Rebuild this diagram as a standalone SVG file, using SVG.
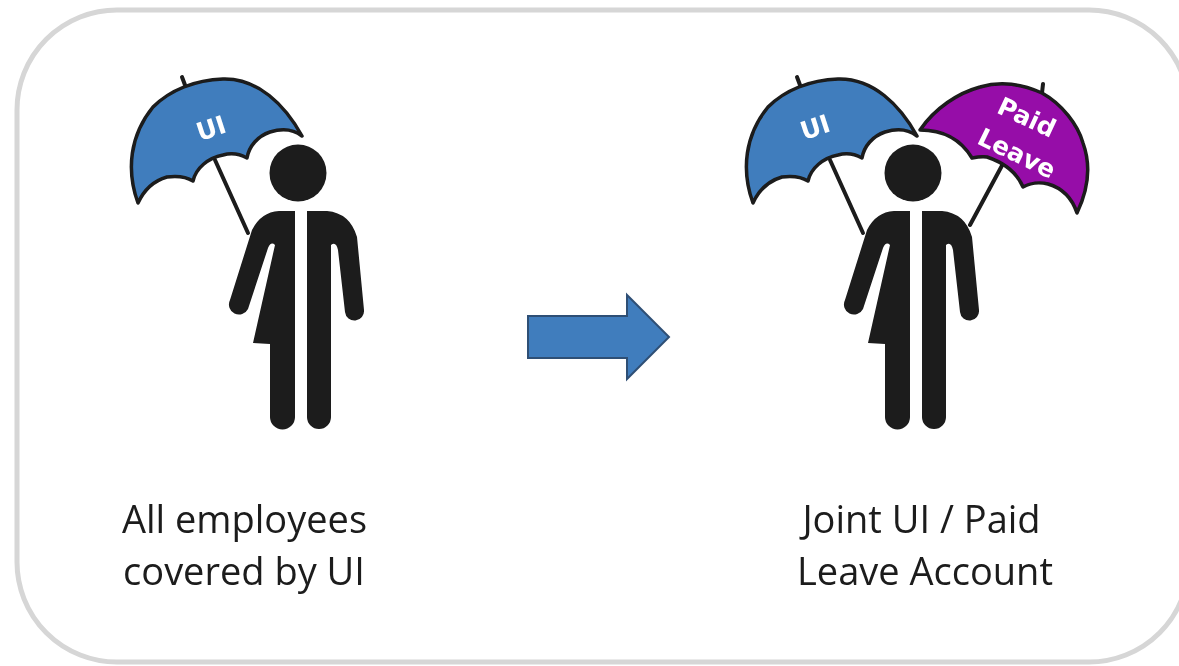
<svg xmlns="http://www.w3.org/2000/svg" width="1179" height="666" viewBox="0 0 1179 666">
<style>
.lab{font-family:"Open Sans","Noto Sans",sans-serif;font-size:38px;fill:#1a1a1a;text-anchor:middle}
.umb{stroke:#1a1a1a;stroke-width:3.500;stroke-linejoin:round}
.line{stroke:#1a1a1a;stroke-width:4;fill:none;stroke-linecap:round}
.blk{fill:#1a1a1a}
.ut{font-family:"DejaVu Sans",sans-serif;font-weight:700;font-size:25px;fill:#fff;text-anchor:middle}
</style>
<defs>
<filter id="soft" x="-5%" y="-5%" width="110%" height="110%"><feGaussianBlur stdDeviation="0.7"/></filter>
<g id="person">
<circle class="blk" cx="298" cy="173" r="28.500"/>
<path class="blk" d="M295 211H279Q261 212 252 230L230 300A10 10 0 0 0 248 309L268 248Q271 241 275 245L253 343L270 344V417A12.500 12.500 0 0 0 295 417Z"/>
<path class="blk" d="M307 211H327Q350 213 357 237L364 310A9.500 9.500 0 0 1 345 312L338 250Q336 241 331 245V417A12 12 0 0 1 307 417Z"/>
</g>
<g id="umbL">
<path class="line" d="M182 77L185 85M215 160L248 233"/>
<path class="umb" fill="#3f7dbd" d="M138 203C126 170 130 135 153 107C170 90 195 80 223 79C258 78 285 105 302 136C293 129 283 128 270 132C258 136 249 146 247 158C238 153 230 153 223 155C208 158 196 168 193 181C185 176 175 176 167 177C153 181 144 190 138 203Z"/>
</g>
</defs>
<g filter="url(#soft)">
<rect x="17" y="10" width="1172" height="652" rx="100" fill="#fff" stroke="#d6d6d6" stroke-width="5"/>
<g id="node-left-person">
<use href="#umbL"/><use href="#person"/>
<text class="ut" transform="translate(211 128) rotate(-18)" y="9">UI</text>
</g>
<g id="node-right-person">
<use href="#umbL" x="615"/><use href="#person" x="615"/>
<path class="line" d="M1005 160L970 225M1043 84L1042 93"/>
<path class="umb" fill="#960aa8" d="M920 130C935 108 958 93 980 87C1000 81 1022 84 1042 93C1062 104 1078 125 1083 143C1091 165 1088 190 1077 213C1072 198 1062 188 1048 184C1040 182 1030 183 1023 187C1017 173 1005 163 987 157C982 156 977 157 972 158C963 143 947 130 920 130Z"/>
<text class="ut" transform="translate(815 127) rotate(-18)" y="9">UI</text>
<text class="ut" transform="translate(1027 117) rotate(25)" y="9">Paid</text>
<text class="ut" transform="translate(1017 153) rotate(26)" y="9">Leave</text>
</g>
<g id="connectors">
<path fill="#3f7dbd" stroke="#2f4f75" stroke-width="2" d="M528 316H627V295L669 337L627 379V358H528Z"/>
</g>
<g id="labels">
<text class="lab" x="244.500" y="533">All employees</text>
<text class="lab" x="244" y="585">covered by UI</text>
<text class="lab" x="921.500" y="533">Joint UI / Paid</text>
<text class="lab" x="925" y="585">Leave Account</text>
</g>
</g>
</svg>
